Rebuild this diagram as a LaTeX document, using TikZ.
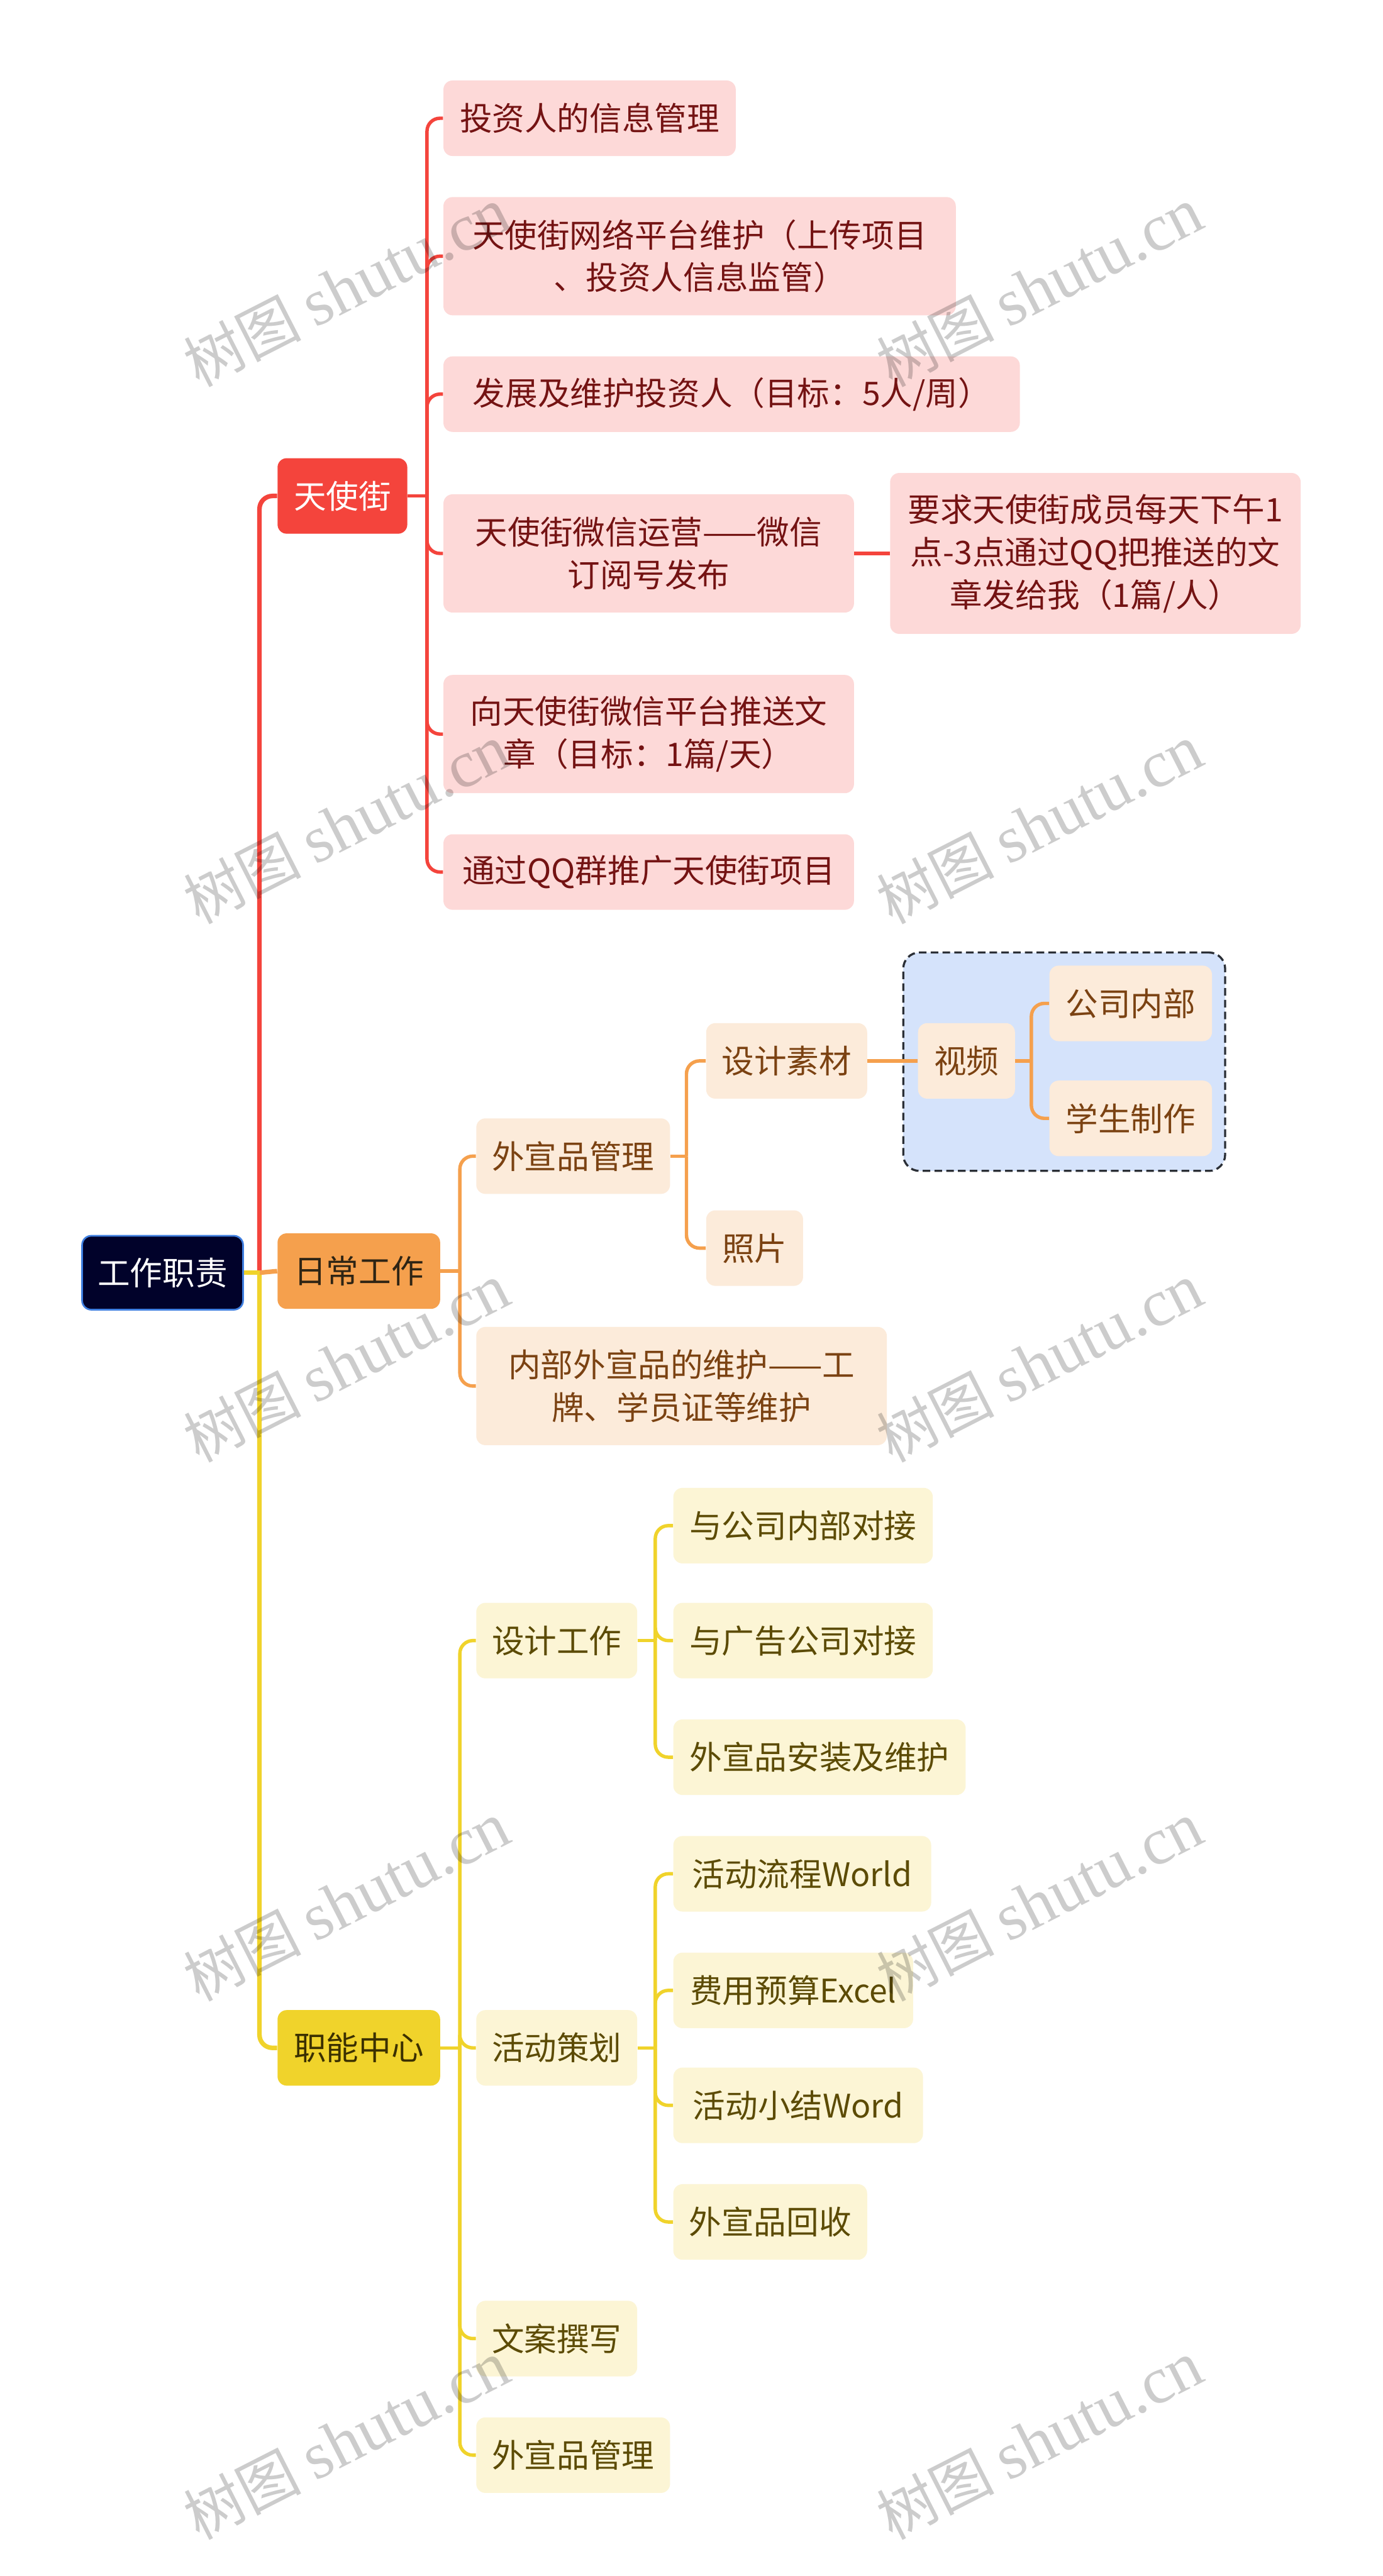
\documentclass[tikz,border=0pt]{standalone}
\usepackage{fontspec}
\setmainfont{Noto Sans CJK SC}
\newfontfamily\wmfont{Liberation Serif}
\newcommand\UU{0.030404cm}
\definecolor{rootfill}{HTML}{01022A}
\definecolor{rootborder}{HTML}{3F7FE0}
\definecolor{redL}{HTML}{F4443C}
\definecolor{redbox}{HTML}{FDD9D8}
\definecolor{redtext}{HTML}{741313}
\definecolor{orL}{HTML}{F5A04D}
\definecolor{orbox}{HTML}{FCEBDA}
\definecolor{ortext}{HTML}{7B4212}
\definecolor{orLtext}{HTML}{2E2414}
\definecolor{yeL}{HTML}{F0D32B}
\definecolor{yebox}{HTML}{FCF5D5}
\definecolor{yetext}{HTML}{5C4B05}
\definecolor{yeLtext}{HTML}{3B3000}
\definecolor{grpfill}{HTML}{D5E3FB}
\definecolor{grpborder}{HTML}{2B2F36}
\begin{document}
\begin{tikzpicture}[x=0.030404cm,y=-0.030404cm,
  every node/.style={font=\fontsize{17.1}{22.5}\selectfont, align=center, inner sep=0pt, rounded corners=0.17cm},
  bw/.style={minimum width=#1*\UU},
  bh/.style={minimum height=#1*\UU},
  rootbox/.style={fill=rootfill, draw=rootborder, line width=0.9pt, text=white, bw=98, bh=45},
  redlvl/.style={fill=redL, text=white, bh=46},
  orlvl/.style={fill=orL, text=orLtext, bh=46},
  yelvl/.style={fill=yeL, text=yeLtext, bh=46},
  redc/.style={fill=redbox, text=redtext, bh=46},
  orc/.style={fill=orbox, text=ortext, bh=46},
  yec/.style={fill=yebox, text=yetext, bh=46},
  mainln/.style={line width=2.4pt},
  subln/.style={line width=1.8pt, rounded corners=0.24cm},
  wm/.style={text=black, opacity=0.2, font=\fontsize{31}{34}\selectfont, rotate=27}
]
\useasboundingbox[fill=white] (0,0) rectangle (842,1568.6);

% root and level 1
\node[rootbox] (root) at (99,775) {工作职责};
\node[redlvl, bw=79] (tsj) at (208.5,302) {天使街};
\node[orlvl, bw=99] (rcgz) at (218.5,774) {日常工作};
\node[yelvl, bw=99] (znzx) at (218.5,1247) {职能中心};

% red children
\node[redc, bw=178] (r1) at (359,72) {投资人的信息管理};
\node[redc, bw=312, bh=72] (r2) at (426,156) {天使街网络平台维护（上传项目\\、投资人信息监管）};
\node[redc, bw=351] (r3) at (445.5,240) {发展及维护投资人（目标：5人/周）};
\node[redc, bw=250, bh=72] (r4) at (395,337) {天使街微信运营——微信\\订阅号发布};
\node[redc, bw=250, bh=98] (r4a) at (667,337) {要求天使街成员每天下午1\\点-3点通过QQ把推送的文\\章发给我（1篇/人）};
\node[redc, bw=250, bh=72] (r5) at (395,447) {向天使街微信平台推送文\\章（目标：1篇/天）};
\node[redc, bw=250] (r6) at (395,531) {通过QQ群推广天使街项目};

% orange children
\node[fill=grpfill, draw=grpborder, line width=1.1pt, dash pattern=on 4pt off 2.2pt, rounded corners=0.3cm, bw=196, bh=133] (grp) at (648,646.5) {};
\node[orc, bw=118] (o1) at (349,704) {外宣品管理};
\node[orc, bw=98] (o1a) at (479,646) {设计素材};
\node[orc, bw=59] (o1a1) at (588.5,646) {视频};
\node[orc, bw=99] (o1a1a) at (688.5,611) {公司内部};
\node[orc, bw=99] (o1a1b) at (688.5,681) {学生制作};
\node[orc, bw=59] (o1b) at (459.5,760) {照片};
\node[orc, bw=250, bh=72] (o2) at (415,844) {内部外宣品的维护——工\\牌、学员证等维护};

% yellow children
\node[yec, bw=98] (y1) at (339,999) {设计工作};
\node[yec, bw=158] (y1a) at (489,929) {与公司内部对接};
\node[yec, bw=158] (y1b) at (489,999) {与广告公司对接};
\node[yec, bw=178] (y1c) at (499,1070) {外宣品安装及维护};
\node[yec, bw=98] (y2) at (339,1247) {活动策划};
\node[yec, bw=157] (y2a) at (488.5,1141) {活动流程World};
\node[yec, bw=146] (y2b) at (483,1212) {费用预算Excel};
\node[yec, bw=152] (y2c) at (486,1282) {活动小结Word};
\node[yec, bw=118] (y2d) at (469,1353) {外宣品回收};
\node[yec, bw=98] (y3) at (339,1424) {文案撰写};
\node[yec, bw=118] (y4) at (349,1495) {外宣品管理};

% junctions
\coordinate (j0) at (158,775);
\coordinate (jr) at (260,302);
\coordinate (jo) at (280,774);
\coordinate (jo1) at (418,704);
\coordinate (jo2) at (628,646);
\coordinate (jy) at (280,1247);
\coordinate (jy1) at (399,999);
\coordinate (jy2) at (399,1247);

% main trunk
\draw[mainln, redL, rounded corners=0.24cm] (j0) |- (tsj.west);
\draw[mainln, yeL, rounded corners=0.24cm] (j0) |- (znzx.west);
\draw[mainln, orL] (j0) -- (rcgz.west);
\draw[mainln, yeL] (root.east) -- (j0);

% red branch
\draw[subln, redL] (tsj.east) -- (jr);
\foreach \c in {r1,r2,r3,r4,r5,r6} \draw[subln, redL] (jr) |- (\c.west);
\draw[subln, redL] (r4.east) -- (r4a.west);

% orange branch
\draw[subln, orL] (rcgz.east) -- (jo);
\foreach \c in {o1,o2} \draw[subln, orL] (jo) |- (\c.west);
\draw[subln, orL] (o1.east) -- (jo1);
\foreach \c in {o1a,o1b} \draw[subln, orL] (jo1) |- (\c.west);
\draw[subln, orL] (o1a.east) -- (o1a1.west);
\draw[subln, orL] (o1a1.east) -- (jo2);
\foreach \c in {o1a1a,o1a1b} \draw[subln, orL] (jo2) |- (\c.west);

% yellow branch
\draw[subln, yeL] (znzx.east) -- (jy);
\foreach \c in {y1,y2,y3,y4} \draw[subln, yeL] (jy) |- (\c.west);
\draw[subln, yeL] (y1.east) -- (jy1);
\foreach \c in {y1a,y1b,y1c} \draw[subln, yeL] (jy1) |- (\c.west);
\draw[subln, yeL] (y2.east) -- (jy2);
\foreach \c in {y2a,y2b,y2c,y2d} \draw[subln, yeL] (jy2) |- (\c.west);

% watermarks
\foreach \yy [count=\i] in {175,502,830,1158,1486} {
  \node[wm] (wmL\i) at (211,\yy) {树图 {\wmfont\fontsize{35}{38}\selectfont shutu.cn}};
  \node[wm] (wmR\i) at (633,\yy) {树图 {\wmfont\fontsize{35}{38}\selectfont shutu.cn}};
}
\end{tikzpicture}
\end{document}
